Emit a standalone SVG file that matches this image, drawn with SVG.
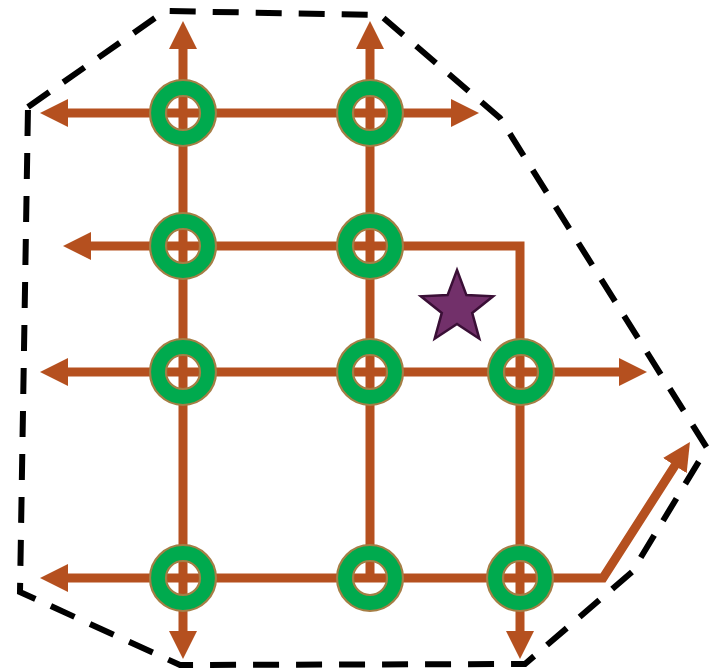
<svg xmlns="http://www.w3.org/2000/svg" width="709" height="670" viewBox="0 0 709 670">
<style>
.ln{fill:none;stroke:#B5501F;stroke-width:9;stroke-linejoin:miter}
.ring{fill:#00AA4E;fill-rule:evenodd;stroke:#A57E45;stroke-width:2.2}
.bound{fill:none;stroke:#000;stroke-width:6;stroke-dasharray:26 17}
.star{fill:#72306A;stroke:#3A0F36;stroke-width:2.5;stroke-linejoin:miter}
</style>
<defs>
<marker id="ah" viewBox="0 0 28 28" refX="1" refY="14" markerWidth="28" markerHeight="28" markerUnits="userSpaceOnUse" orient="auto-start-reverse">
<path d="M0,0 L28,14 L0,28 Z" fill="#B5501F"/>
</marker>
<path id="ringShape" d="M-33,0 A33,33 0 1,0 33,0 A33,33 0 1,0 -33,0 Z M-17,0 A17,17 0 1,1 17,0 A17,17 0 1,1 -17,0 Z"/>
</defs>
<g id="boundary">
<path class="bound" d="M28,107 L165,11 L380,15 L500,118 L707,448 L632,572 L525,664 L180,665 L20,592 Z"/>
</g>
<g id="connectors">
<path class="ln" d="M67,113 H452" marker-start="url(#ah)" marker-end="url(#ah)"/>
<path class="ln" d="M90,246 H520 V632" marker-start="url(#ah)" marker-end="url(#ah)"/>
<path class="ln" d="M67,372 H620" marker-start="url(#ah)" marker-end="url(#ah)"/>
<path class="ln" d="M67,578 H603 L675.4,464.8" marker-start="url(#ah)" marker-end="url(#ah)"/>
<path class="ln" d="M183,48 V632" marker-start="url(#ah)" marker-end="url(#ah)"/>
<path class="ln" d="M370,48 V578" marker-start="url(#ah)"/>
</g>
<g id="n11"><use href="#ringShape" class="ring" transform="translate(183,113)"/></g>
<g id="n12"><use href="#ringShape" class="ring" transform="translate(370,113)"/></g>
<g id="n21"><use href="#ringShape" class="ring" transform="translate(183,246)"/></g>
<g id="n22"><use href="#ringShape" class="ring" transform="translate(370,246)"/></g>
<g id="n31"><use href="#ringShape" class="ring" transform="translate(183,372)"/></g>
<g id="n32"><use href="#ringShape" class="ring" transform="translate(370,372)"/></g>
<g id="n33"><use href="#ringShape" class="ring" transform="translate(521,372)"/></g>
<g id="n41"><use href="#ringShape" class="ring" transform="translate(183,578)"/></g>
<g id="n42"><use href="#ringShape" class="ring" transform="translate(370,578)"/></g>
<g id="n43"><use href="#ringShape" class="ring" transform="translate(520,578)"/></g>
<g id="star">
<polygon class="star" transform="translate(457,308)" points="0,-38 9.4,-12.9 36.1,-11.7 15.2,4.9 22.3,30.7 0,15.9 -22.3,30.7 -15.2,4.9 -36.1,-11.7 -9.4,-12.9"/>
</g>
</svg>
